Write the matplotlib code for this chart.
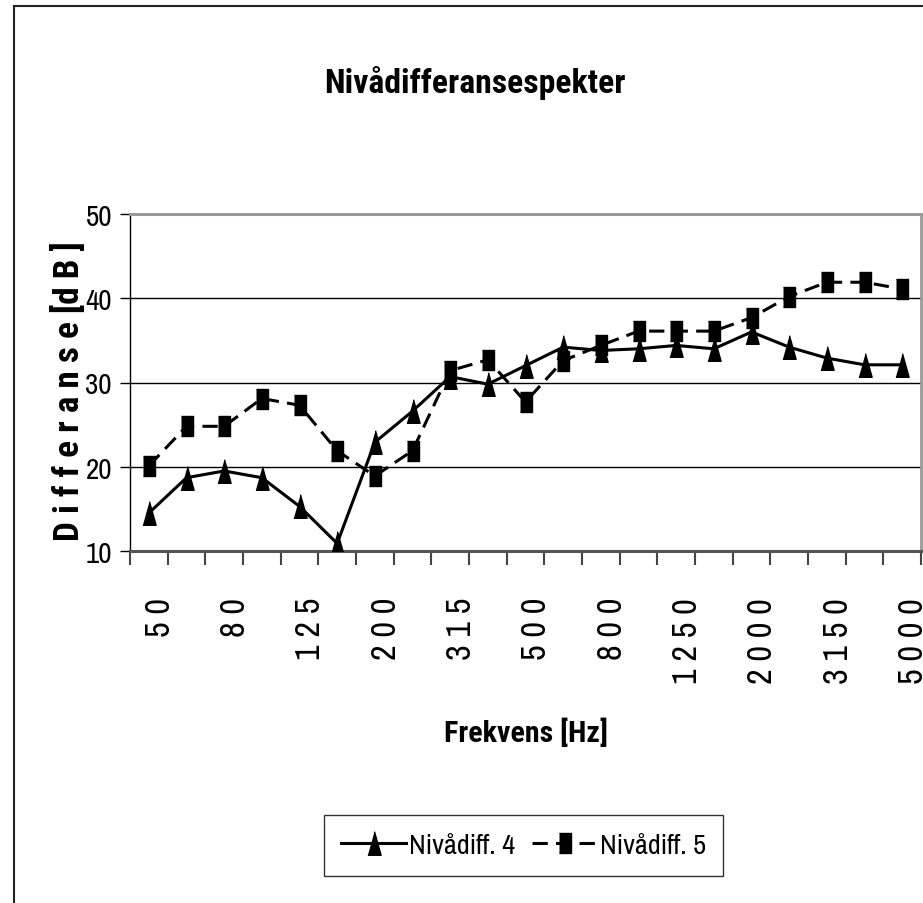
import matplotlib.pyplot as plt
from matplotlib import font_manager as fm
from matplotlib.patches import Rectangle
from matplotlib.transforms import ScaledTranslation
from matplotlib.ticker import FixedLocator, NullFormatter

freqs = ["50", "63", "80", "100", "125", "160", "200", "250", "315", "400", "500",
         "630", "800", "1000", "1250", "1600", "2000", "2500", "3150", "4000", "5000"]
diff4 = [14.5, 18.7, 19.5, 18.7, 15.3, 10.9, 22.9, 26.6, 30.7, 29.8, 32.0,
         34.2, 33.8, 34.0, 34.4, 34.0, 36.0, 34.2, 32.9, 32.1, 32.1]
diff5 = [20.1, 24.8, 24.8, 28.1, 27.3, 21.9, 18.9, 21.9, 31.4, 32.7, 27.7,
         32.6, 34.4, 36.1, 36.1, 36.1, 37.7, 40.2, 41.9, 41.9, 41.1]
names = ["Nivådiff. 4", "Nivådiff. 5"]

# pick narrow fonts that are actually installed (Arial Narrow look-alikes)
have = {f.name for f in fm.fontManager.ttflist}
def pick(options):
    for o in options:
        if o in have:
            return [o, "DejaVu Sans"]
    return ["DejaVu Sans"]
narrow = pick(["Liberation Sans Narrow", "Archivo Narrow", "Roboto Condensed", "Fira Sans Condensed"])
narrow_b = pick(["Liberation Sans Narrow", "Roboto Condensed", "Fira Sans Condensed", "Archivo Narrow"])

W, H = 923, 904
fig = plt.figure(figsize=(W / 100, H / 100), dpi=100)
ax = fig.add_axes([130 / W, 1 - 552 / H, 791 / W, 337 / H])

x = list(range(len(freqs)))
tri = [(-0.28, -0.5), (0.28, -0.5), (0.0, 0.5)]
box = [(-0.27, -0.5), (0.27, -0.5), (0.27, 0.5), (-0.27, 0.5)]

ax.plot(x, diff4, color="black", lw=2.2, marker=tri, markersize=17,
        label=names[0], zorder=3)
ax.plot(x, diff5, color="black", lw=2.2, linestyle=(0, (5, 2.7)), marker=box,
        markersize=15, label=names[1], zorder=3)

ax.set_xlim(-0.5, len(freqs) - 0.5)
ax.set_ylim(10, 50)
ax.set_yticks([10, 20, 30, 40, 50])
ax.yaxis.grid(True, color="black", lw=1)
ax.set_axisbelow(True)

# category boundaries as major ticks, labels on every other category
ax.xaxis.set_major_locator(FixedLocator([i - 0.5 for i in range(len(freqs) + 1)]))
ax.xaxis.set_major_formatter(NullFormatter())
ax.xaxis.set_minor_locator(FixedLocator(x[::2]))
ax.set_xticklabels([" ".join(f) for f in freqs[::2]], minor=True,
                   rotation=90, fontsize=24, family=narrow)
ax.tick_params(axis="x", which="major", direction="out", length=10, width=1.5,
               color="#444444")
ax.tick_params(axis="x", which="minor", length=0, pad=33)
ax.tick_params(axis="y", direction="out", length=7, width=1, color="black",
               labelsize=21, pad=6)
for lab in ax.get_yticklabels():
    lab.set_family(narrow)

ax.spines["left"].set_color("black")
ax.spines["left"].set_linewidth(1)
ax.spines["bottom"].set_color("#555555")
ax.spines["bottom"].set_linewidth(2.2)
ax.spines["top"].set_color("#999999")
ax.spines["top"].set_linewidth(2.2)
ax.spines["right"].set_color("#999999")
ax.spines["right"].set_linewidth(2)

ylab = ax.text(-0.078, 0.476, "D i f f e r a n s e [d B ]", transform=ax.transAxes,
               rotation=90, ha="center", va="center", fontsize=25, fontweight="bold",
               family=narrow_b)
title = fig.text(475 / W, 1 - 93 / H, "Nivådifferansespekter", ha="center",
                 va="baseline", fontsize=27, fontweight="bold", family=narrow_b)
xlab = fig.text(526 / W, 1 - 742 / H, "Frekvens [Hz]", ha="center", va="baseline",
                fontsize=22, fontweight="bold", family=narrow_b)

# scale font sizes so the texts take the same room as in the reference
r = fig.canvas.get_renderer()
def fit(t, target, vertical=False):
    bb = t.get_window_extent(r)
    t.set_fontsize(t.get_fontsize() * target / (bb.height if vertical else bb.width))
    return t.get_fontsize()

fit(title, 302)
fit(xlab, 164)
fit(ylab, 300, vertical=True)
probe = fig.text(0, 0, names[0], fontsize=20, family=narrow)
leg_size = fit(probe, 106)
probe.remove()
xt = ax.get_xticklabels(minor=True)
tick_size = fit(xt[7], 86, vertical=True)
for lab in xt:
    lab.set_fontsize(tick_size)
    lab.set_transform(lab.get_transform() + ScaledTranslation(0.11, 0, fig.dpi_scale_trans))

leg = fig.legend(loc="center", bbox_to_anchor=(523.5 / W, 1 - 846.5 / H), ncol=2,
                 frameon=True, fancybox=False, shadow=False, handlelength=2.3,
                 handletextpad=0.1, columnspacing=0.6, borderpad=0.62,
                 borderaxespad=0, prop={"family": narrow, "size": leg_size})
leg.get_frame().set_edgecolor("black")
leg.get_frame().set_linewidth(1)

fig.add_artist(Rectangle((14 / W, -0.1), 1.2, 1 - 7 / H + 0.1, transform=fig.transFigure,
                         fill=False, edgecolor="#222222", lw=1.5))

fig.savefig("out.png", dpi=100)
